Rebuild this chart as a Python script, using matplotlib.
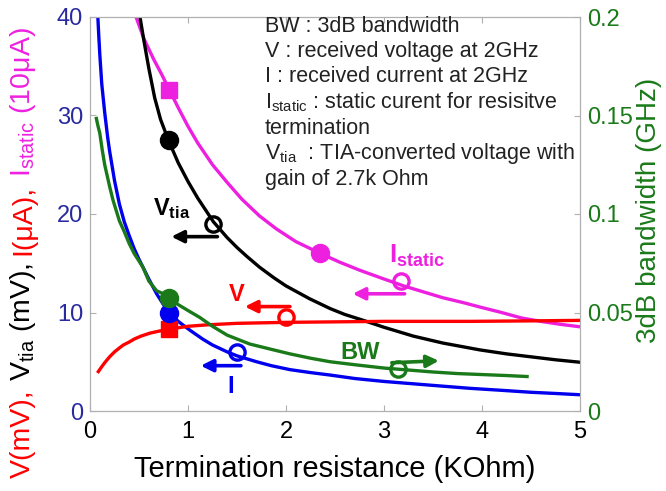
import matplotlib
matplotlib.use('Agg')
from matplotlib import pyplot as plt

plt.rcParams['font.family'] = ['Liberation Sans', 'DejaVu Sans']
plt.rcParams['mathtext.fontset'] = 'custom'
plt.rcParams['mathtext.rm'] = 'Liberation Sans'
plt.rcParams['mathtext.bf'] = 'Liberation Sans:bold'

RED = '#ff0000'
BLUE = '#0000ee'
GREEN = '#1a7a1a'
MAGENTA = '#ee20e0'
BLACK = '#000000'

# received current I (uA)
r_i = [0.08, 0.09, 0.10, 0.12, 0.15, 0.18, 0.20, 0.25, 0.30, 0.35, 0.40, 0.45, 0.50,
       0.55, 0.60, 0.68, 0.75, 0.81, 0.90, 1.02, 1.15, 1.25, 1.40, 1.50, 1.70, 1.85,
       2.04, 2.25, 2.45, 2.70, 3.00, 3.25, 3.50, 3.88, 4.20, 4.50, 4.75, 5.00]
i_ua = [40.0, 38.0, 36.2, 33.2, 30.3, 27.8, 26.4, 23.4, 21.0, 19.2, 17.8, 16.5, 15.4,
        14.4, 13.4, 11.9, 10.8, 10.0, 9.1, 8.2, 7.3, 6.7, 6.0, 5.6, 5.0, 4.6,
        4.2, 3.9, 3.65, 3.3, 3.0, 2.8, 2.6, 2.3, 2.1, 1.9, 1.78, 1.65]

# 3dB bandwidth (GHz)
r_bw = [0.065, 0.08, 0.10, 0.125, 0.15, 0.20, 0.235, 0.30, 0.35, 0.40, 0.45, 0.54,
        0.60, 0.68, 0.75, 0.81, 0.90, 1.00, 1.12, 1.25, 1.40, 1.63, 1.85, 2.04, 2.25,
        2.45, 2.70, 3.00, 3.25, 3.50, 3.75, 4.00, 4.25, 4.46]
bw_ghz = [0.1485, 0.145, 0.141, 0.1325, 0.125, 0.114, 0.107, 0.0965, 0.091, 0.085,
          0.080, 0.073, 0.066, 0.061, 0.0595, 0.0575, 0.054, 0.051, 0.0475, 0.043,
          0.0385, 0.034, 0.0313, 0.029, 0.0268, 0.025, 0.0235, 0.0218, 0.0208,
          0.0198, 0.019, 0.0185, 0.018, 0.0175]

# TIA-converted voltage Vtia (mV)
r_vtia = [0.51, 0.55, 0.60, 0.66, 0.72, 0.80, 0.90, 1.00, 1.10, 1.26, 1.40, 1.50,
          1.60, 1.73, 1.88, 2.00, 2.24, 2.45, 2.60, 2.79, 3.00, 3.30, 3.60, 3.98,
          4.25, 4.50, 4.75, 5.00]
vtia_mv = [40.0, 37.6, 34.8, 31.8, 29.6, 27.5, 25.2, 23.3, 21.6, 19.2, 17.6, 16.6,
           15.7, 14.6, 13.5, 12.7, 11.4, 10.4, 9.8, 9.2, 8.5, 7.6, 6.9, 6.2,
           5.8, 5.5, 5.2, 4.95]

# static current for resistive termination (10uA)
r_istat = [0.47, 0.55, 0.65, 0.73, 0.81, 0.90, 1.00, 1.10, 1.25, 1.40, 1.55, 1.73,
           1.90, 2.10, 2.35, 2.55, 2.75, 3.00, 3.20, 3.40, 3.60, 3.81, 4.00, 4.20,
           4.40, 4.60, 4.80, 5.00]
istat = [40.0, 37.8, 35.7, 34.2, 32.6, 30.8, 28.9, 27.2, 25.0, 23.2, 21.5, 19.8,
         18.5, 17.2, 16.0, 15.1, 14.3, 13.4, 12.7, 12.1, 11.5, 11.0, 10.5, 10.0,
         9.45, 9.1, 8.8, 8.55]

# received voltage V (mV)
r_v = [0.085, 0.12, 0.15, 0.20, 0.25, 0.30, 0.34, 0.40, 0.45, 0.52, 0.61, 0.70,
       0.81, 0.90, 1.00, 1.20, 1.50, 2.00, 2.50, 3.00, 3.88, 4.50, 5.00]
v_mv = [4.0, 4.5, 4.9, 5.5, 6.0, 6.4, 6.7, 7.0, 7.3, 7.6, 7.9, 8.1,
        8.3, 8.45, 8.6, 8.75, 8.9, 9.0, 9.05, 9.1, 9.1, 9.15, 9.2]

# highlighted operating points
r_mark = 0.81
istat_mark = 32.6
vtia_mark = 27.5
bw_mark = 0.0575
i_mark = 10.0
v_mark = 8.3
r_istat_mark2 = 2.35
istat_mark2 = 16.0

notes = [
    'BW : 3dB bandwidth',
    'V : received voltage at 2GHz',
    'I : received current at 2GHz',
    r'$\mathregular{I_{static}}$ : static curent for resisitve',
    'termination',
    r'$\mathregular{V_{tia}}$  : TIA-converted voltage with',
    'gain of 2.7k Ohm',
]

fig = plt.figure(figsize=(6.66, 4.91), dpi=100)
W, H = 666, 491
ax = fig.add_axes([90 / W, (H - 411) / H, 490 / W, 394 / H])
ax2 = ax.twinx()

lw = 2.4
ax.plot(r_istat, istat, color=MAGENTA, lw=lw)
ax.plot(r_vtia, vtia_mv, color=BLACK, lw=lw)
ax.plot(r_i, i_ua, color=BLUE, lw=lw)
ax.plot(r_v, v_mv, color=RED, lw=lw)
ax2.plot(r_bw, bw_ghz, color=GREEN, lw=lw)

ax.plot(r_mark, istat_mark, 's', color=MAGENTA, ms=11)
ax.plot(r_mark, vtia_mark, 'o', color=BLACK, ms=13)
ax.plot(r_mark, i_mark, 'o', color=BLUE, ms=13, zorder=4)
ax.plot(r_mark, v_mark, 's', color=RED, ms=11, zorder=3)
ax.plot(r_istat_mark2, istat_mark2, 'o', color=MAGENTA, ms=13)
ax2.plot(r_mark, bw_mark, 'o', color=GREEN, ms=13, zorder=1)


def loop_arrow(a, x, y, x_tip, y_arrow, color):
    a.plot(x, y, 'o', mfc='none', mec=color, mew=2.4, ms=11)
    a.annotate('', xy=(x_tip, y_arrow), xytext=(x + 0.04, y_arrow),
               arrowprops=dict(arrowstyle='-|>', color=color, lw=2.6,
                               mutation_scale=18, shrinkA=0, shrinkB=0))


loop_arrow(ax, 1.26, 19.0, 0.83, 17.7, BLACK)
loop_arrow(ax, 2.00, 9.5, 1.58, 10.6, RED)
loop_arrow(ax, 1.50, 6.0, 1.13, 4.6, BLUE)
loop_arrow(ax, 3.17, 13.2, 2.68, 11.9, MAGENTA)
ax2.plot(3.14, 0.0215, 'o', mfc='none', mec=GREEN, mew=2.4, ms=11)
ax2.annotate('', xy=(3.56, 0.0255), xytext=(3.08, 0.0245),
             arrowprops=dict(arrowstyle='-|>', color=GREEN, lw=2.6,
                             mutation_scale=18, shrinkA=0, shrinkB=0))

ax.text(0.64, 19.9, r'$\mathbf{V_{tia}}$', color=BLACK, fontsize=17)
ax.text(1.42, 11.2, 'V', color=RED, fontsize=17, fontweight='bold')
ax.text(1.40, 1.8, 'I', color=BLUE, fontsize=17, fontweight='bold')
ax.text(3.05, 15.0, r'$\mathbf{I_{static}}$', color=MAGENTA, fontsize=18.5)
ax.text(2.55, 5.3, 'BW', color=GREEN, fontsize=17, fontweight='bold')

note_y = [27, 52, 77, 102, 128, 154, 180]
for txt, y in zip(notes, note_y):
    fig.text(265 / W, (H - y) / H, txt, fontsize=15.5, color='#222222',
             va='center', ha='left')

ax.set_xlim(0, 5)
ax.set_ylim(0, 40)
ax2.set_ylim(0, 0.2)
ax.set_xticks([0, 1, 2, 3, 4, 5])
ax.set_yticks([0, 10, 20, 30, 40])
ax2.set_yticks([0, 0.05, 0.1, 0.15, 0.2])
ax2.set_yticklabels(['0', '0.05', '0.1', '0.15', '0.2'])

for a in (ax, ax2):
    for s in a.spines.values():
        s.set_color('#b0b0b0')
ax.tick_params(axis='x', direction='in', top=True, colors='#b0b0b0',
               labelcolor='black', labelsize=17, length=4, pad=7)
ax.tick_params(axis='y', direction='in', colors='#b0b0b0',
               labelcolor='#2a2aa0', labelsize=17, length=4, pad=5)
ax2.tick_params(axis='y', direction='in', colors='#b0b0b0',
                labelcolor=GREEN, labelsize=17, length=4, pad=5)

ax.set_xlabel('Termination resistance (KOhm)', fontsize=21, labelpad=9)
ax2.set_ylabel('3dB bandwidth (GHz)', fontsize=20, color=GREEN)
ax2.yaxis.set_label_coords((636 - 90) / 490, (411 - 210) / 394)

# multi-coloured left axis label, stacked bottom to top
pieces = [('V(mV),', RED), (r'$\mathregular{V_{tia}}$ (mV),', BLACK),
          ('I(μA),', RED), (r'$\mathregular{I_{static}}$ (10μA)', MAGENTA)]
fig.canvas.draw()
renderer = fig.canvas.get_renderer()
y_px = 478
fs = 20.5
gap = 0.28 * fs * 100 / 72
for txt, col in pieces:
    t = fig.text(30 / W, (H - y_px) / H, txt, color=col, fontsize=fs,
                 rotation=90, rotation_mode='anchor', ha='left', va='baseline')
    ext = t.get_window_extent(renderer)
    y_px -= ext.height + gap

fig.savefig('out.png', dpi=100)
